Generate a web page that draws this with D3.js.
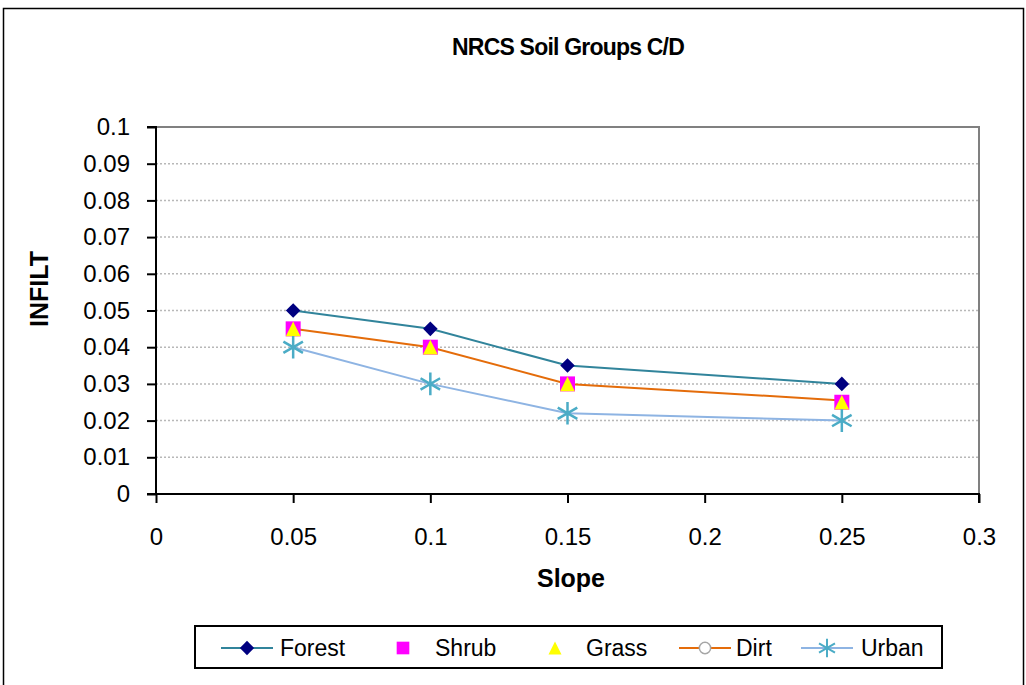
<!DOCTYPE html>
<html>
<head>
<meta charset="utf-8">
<script src="https://cdn.jsdelivr.net/npm/d3@7"></script>
<style>
  body { margin: 0; background: #fff; }
  text { font-family: "Liberation Sans", Arial, sans-serif; }
</style>
</head>
<body>
<div id="chart"></div>
<script>
// data
const slopes = [0.05, 0.1, 0.15, 0.25]
const forest = [0.05, 0.045, 0.035, 0.03]
const shrub = [0.045, 0.04, 0.03, 0.025]
const grass = [0.045, 0.04, 0.03, 0.025]
const dirt = [0.045, 0.04, 0.03, 0.0255]
const urban = [0.04, 0.03, 0.022, 0.02]
const xTicks = [0, 0.05, 0.1, 0.15, 0.2, 0.25, 0.3]
const yTicks = [0, 0.01, 0.02, 0.03, 0.04, 0.05, 0.06, 0.07, 0.08, 0.09, 0.1]

const W = 1026, H = 685
const plot = {left: 156, right: 979, top: 127, bottom: 494}

const svg = d3.select('#chart').append('svg')
    .attr('width', W).attr('height', H)

// outer frame
svg.append('rect')
    .attr('x', 3.5).attr('y', 8.5)
    .attr('width', 1020).attr('height', 700)
    .attr('fill', 'none').attr('stroke', '#000').attr('stroke-width', 1.5)

const x = d3.scaleLinear().domain([0, 0.3]).range([plot.left, plot.right])
const y = d3.scaleLinear().domain([0, 0.1]).range([plot.bottom, plot.top])

// gridlines
svg.append('g')
    .selectAll('line')
    .data(yTicks.filter(d => d > 0 && d < 0.1))
    .join('line')
    .attr('x1', plot.left).attr('x2', plot.right)
    .attr('y1', d => y(d)).attr('y2', d => y(d))
    .attr('stroke', '#b8b8b8').attr('stroke-width', 1.5)
    .attr('stroke-dasharray', '2,2')

// plot border (top/right)
svg.append('path')
    .attr('d', `M${plot.left},${plot.top}H${plot.right}V${plot.bottom}`)
    .attr('fill', 'none').attr('stroke', '#808080').attr('stroke-width', 2)

// axes
const yAxis = svg.append('g')
    .attr('transform', `translate(${plot.left},0)`)
    .call(d3.axisLeft(y).tickValues(yTicks).tickFormat(d3.format('~g')).tickSize(9).tickPadding(17))
const xAxis = svg.append('g')
    .attr('transform', `translate(0,${plot.bottom})`)
    .call(d3.axisBottom(x).tickValues(xTicks).tickFormat(d3.format('~g')).tickSize(9).tickPadding(25))
;[yAxis, xAxis].forEach(a => {
    a.select('.domain').attr('stroke', '#000').attr('stroke-width', 2)
    a.selectAll('.tick line').attr('stroke', '#000').attr('stroke-width', 2)
    a.selectAll('.tick text').attr('font-size', 24).attr('fill', '#000')
        .attr('font-family', '"Liberation Sans", Arial, sans-serif')
})
yAxis.select('.domain').attr('d', `M-9,${plot.top}H0V${plot.bottom}`)
xAxis.select('.domain').attr('d', `M${plot.left - 9},0H${plot.right}V9`)

// titles
svg.append('text')
    .attr('x', 568).attr('y', 55)
    .attr('text-anchor', 'middle')
    .attr('font-weight', 'bold').attr('font-size', 23)
    .attr('letter-spacing', -0.8)
    .text('NRCS Soil Groups C/D')
svg.append('text')
    .attr('x', 571).attr('y', 587)
    .attr('text-anchor', 'middle')
    .attr('font-weight', 'bold').attr('font-size', 25)
    .text('Slope')
svg.append('text')
    .attr('transform', 'translate(48,289) rotate(-90)')
    .attr('text-anchor', 'middle')
    .attr('font-weight', 'bold').attr('font-size', 25)
    .text('INFILT')

// series
const line = d3.line().x(d => x(d[0])).y(d => y(d[1]))
const pts = vals => slopes.map((s, i) => [s, vals[i]])

// tall triangle like the spreadsheet marker
const tallTriangle = {
    draw(ctx, size) {
        const h = Math.sqrt(size)
        ctx.moveTo(0, -h / 2)
        ctx.lineTo(h / 2, h / 2)
        ctx.lineTo(-h / 2, h / 2)
        ctx.closePath()
    }
}

const diamond = d3.symbol().type(d3.symbolDiamond2).size(135)
const square = d3.symbol().type(d3.symbolSquare).size(225)
const triangle = d3.symbol().type(tallTriangle).size(215)
const star = d3.symbol().type(d3.symbolAsterisk).size(360)

function drawLine(vals, color) {
    svg.append('path').datum(pts(vals))
        .attr('d', line).attr('fill', 'none')
        .attr('stroke', color).attr('stroke-width', 2)
}
function drawMarks(vals, sym, fill, stroke, sw) {
    svg.append('g').selectAll('path')
        .data(pts(vals))
        .join('path')
        .attr('transform', d => `translate(${x(d[0])},${y(d[1])})`)
        .attr('d', sym)
        .attr('fill', fill).attr('stroke', stroke).attr('stroke-width', sw || 0)
}

drawLine(forest, '#31849b')
drawLine(dirt, '#e46c0a')
drawLine(urban, '#8eb4e3')
drawMarks(forest, diamond, '#000080', 'none')
drawMarks(shrub, square, '#ff00ff', 'none')
drawMarks(grass, triangle, '#ffff00', 'none')
drawMarks(urban, star, 'none', '#4bacc6', 2.5)

// legend
const lg = svg.append('g')
lg.append('rect')
    .attr('x', 195).attr('y', 626).attr('width', 747).attr('height', 42)
    .attr('fill', '#fff').attr('stroke', '#000').attr('stroke-width', 2)

const legendItems = [
    {name: 'Forest', cx: 247, tx: 280, line: '#31849b', sym: d3.symbol().type(d3.symbolDiamond2).size(130), fill: '#000080', stroke: 'none', sw: 0},
    {name: 'Shrub', cx: 403, tx: 435, line: null, sym: d3.symbol().type(d3.symbolSquare).size(160), fill: '#ff00ff', stroke: 'none', sw: 0},
    {name: 'Grass', cx: 555, tx: 586, line: null, sym: d3.symbol().type(tallTriangle).size(170), fill: '#ffff00', stroke: 'none', sw: 0},
    {name: 'Dirt', cx: 705, tx: 736, line: '#e46c0a', sym: d3.symbol().type(d3.symbolCircle).size(100), fill: '#fff', stroke: '#a6a6a6', sw: 1.5},
    {name: 'Urban', cx: 827, tx: 861, line: '#8eb4e3', sym: d3.symbol().type(d3.symbolAsterisk).size(240), fill: 'none', stroke: '#4bacc6', sw: 2}
]
const ly = 648
legendItems.forEach(it => {
    if (it.line) {
        lg.append('line')
            .attr('x1', it.cx - 26).attr('x2', it.cx + 26)
            .attr('y1', ly).attr('y2', ly)
            .attr('stroke', it.line).attr('stroke-width', 2)
    }
    lg.append('path')
        .attr('transform', `translate(${it.cx},${ly})`)
        .attr('d', it.sym)
        .attr('fill', it.fill).attr('stroke', it.stroke).attr('stroke-width', it.sw)
    lg.append('text')
        .attr('x', it.tx).attr('y', ly + 8)
        .attr('font-size', 23)
        .text(it.name)
})
</script>
</body>
</html>
